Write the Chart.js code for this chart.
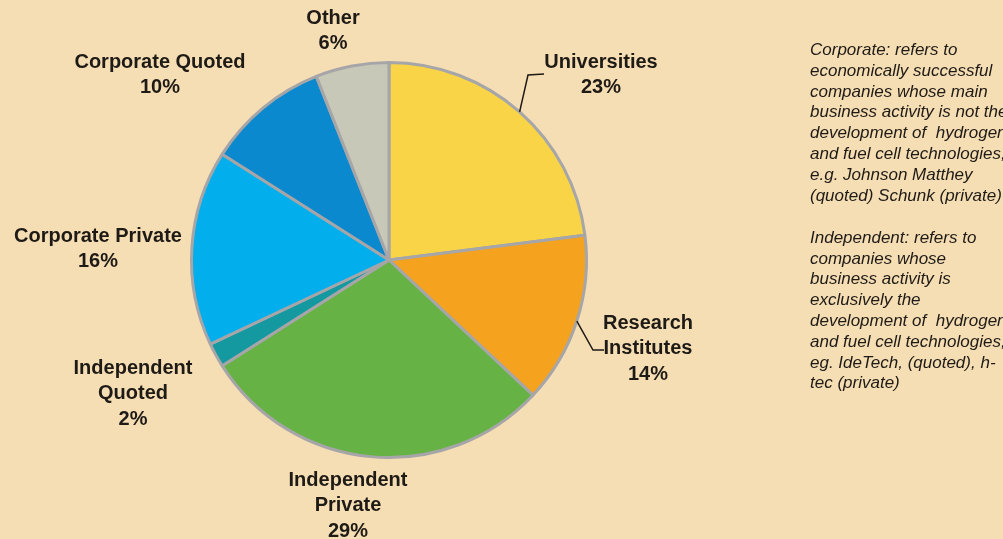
<!DOCTYPE html>
<html>
<head>
<meta charset="utf-8">
<script src="https://cdn.jsdelivr.net/npm/chart.js@4.4.0/dist/chart.umd.min.js"></script>
<style>
  html, body { margin: 0; padding: 0; background: #f6deb4; }
  #wrap { width: 1003px; height: 539px; position: relative; }
</style>
</head>
<body>
<div id="wrap"><canvas id="pieChart" width="1003" height="539"></canvas></div>
<script>
// Data
const categories = ['Universities', 'Research Institutes', 'Independent Private', 'Independent Quoted', 'Corporate Private', 'Corporate Quoted', 'Other'];
const shares = [23, 14, 29, 2, 16, 10, 6];
const sliceColors = ['#f9d447', '#f5a31e', '#67b244', '#13999f', '#02aeec', '#0b89cf', '#c8c8b8'];

// Label text lines and where they sit (offsets from pie centre, px)
const labelLines = [
    ['Universities', '23%'],
    ['Research', 'Institutes', '14%'],
    ['Independent', 'Private', '29%'],
    ['Independent', 'Quoted', '2%'],
    ['Corporate Private', '16%'],
    ['Corporate Quoted', '10%'],
    ['Other', '6%']
];
const labelOffsets = [[212, -198], [259, 63], [-41, 220], [-256, 108], [-291, -24], [-229, -198], [-56, -242]];
// leader lines: elbow points relative to label anchor
const leaders = { 0: [[-73, 13], [-57, 12]], 1: [[-55, 27], [-44, 27]] };

const notes = [
    ['Corporate: refers to', 'economically successful', 'companies whose main', 'business activity is not the',
     'development of  hydrogen', 'and fuel cell technologies,', 'e.g. Johnson Matthey', '(quoted) Schunk (private)'],
    ['Independent: refers to', 'companies whose', 'business activity is', 'exclusively the',
     'development of  hydrogen', 'and fuel cell technologies,', 'eg. IdeTech, (quoted), h-', 'tec (private)']
];

const pieLabels = {
    id: 'pieLabels',
    afterDraw(chart) {
        const ctx = chart.ctx;
        const meta = chart.getDatasetMeta(0);
        const first = meta.data[0];
        const cx = first.x, cy = first.y, r = first.outerRadius;

        ctx.save();
        ctx.fillStyle = '#1e1a16';
        ctx.strokeStyle = '#1e1a16';
        ctx.lineWidth = 1.5;
        ctx.font = 'bold 20px "Liberation Sans", Arial, sans-serif';
        ctx.textAlign = 'center';
        ctx.textBaseline = 'middle';

        meta.data.forEach((arc, i) => {
            const lx = cx + labelOffsets[i][0];
            const ly = cy + labelOffsets[i][1];
            labelLines[i].forEach((t, k) => ctx.fillText(t, lx, ly + k * 25.5));

            if (leaders[i]) {
                const mid = (arc.startAngle + arc.endAngle) / 2;
                ctx.beginPath();
                ctx.moveTo(cx + Math.cos(mid) * r, cy + Math.sin(mid) * r);
                leaders[i].forEach(p => ctx.lineTo(lx + p[0], ly + p[1] + (i === 1 ? 0 : 0)));
                ctx.stroke();
            }
        });

        // side notes
        ctx.font = 'italic 17px "Liberation Sans", Arial, sans-serif';
        ctx.textAlign = 'left';
        let y = 50;
        notes[0].forEach(t => { ctx.fillText(t, 810, y); y += 20.9; });
        y = 238;
        notes[1].forEach(t => { ctx.fillText(t, 810, y); y += 20.8; });
        ctx.restore();
    }
};

new Chart(document.getElementById('pieChart'), {
    type: 'pie',
    data: {
        labels: categories,
        datasets: [{
            data: shares,
            backgroundColor: sliceColors,
            borderColor: '#a6a6a8',
            borderWidth: 3
        }]
    },
    options: {
        responsive: false,
        animation: false,
        layout: { padding: { left: 190, right: 415, top: 61, bottom: 80 } },
        plugins: {
            legend: { display: false },
            tooltip: { enabled: false }
        }
    },
    plugins: [pieLabels]
});
</script>
</body>
</html>
